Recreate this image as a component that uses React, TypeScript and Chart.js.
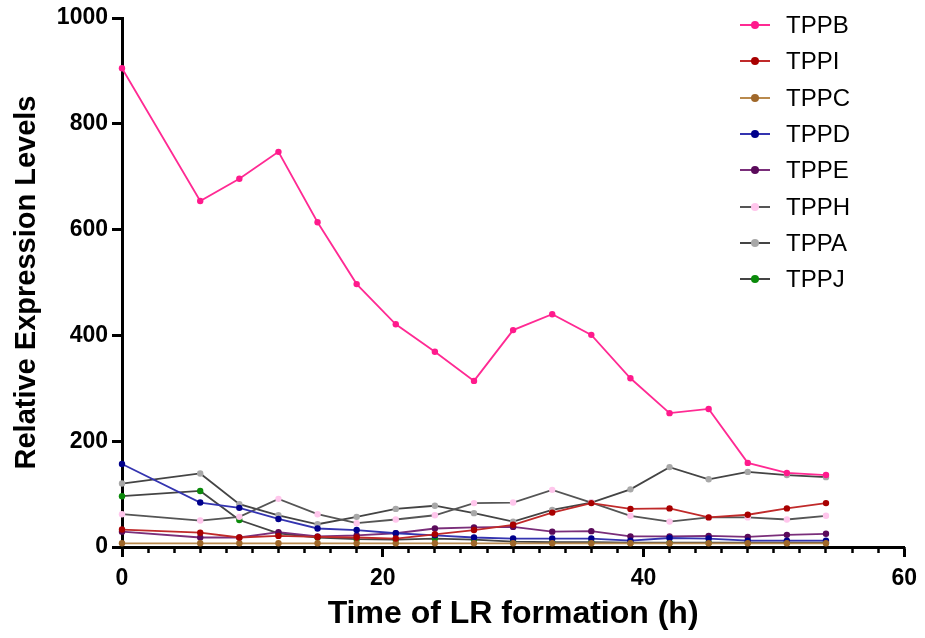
import React, { useEffect, useRef } from 'react';
import { Chart, registerables } from 'chart.js';

Chart.register(...registerables);

// ---- data ----
const times = [0, 6, 9, 12, 15, 18, 21, 24, 27, 30, 33, 36, 39, 42, 45, 48, 51, 54];
const seriesNames = ['TPPB', 'TPPI', 'TPPC', 'TPPD', 'TPPE', 'TPPH', 'TPPA', 'TPPJ'];
const TPPB = [905, 654, 696, 747, 614, 497, 421, 369, 314, 410, 440, 401, 319, 253, 261, 159, 140, 136];
const TPPI = [33, 27, 18, 21, 19, 18, 16, 24, 32, 42, 65, 83, 72, 73, 56, 61, 73, 83];
const TPPC = [7, 7, 7, 7, 7, 7, 7, 7, 7, 7, 7, 7, 7, 7, 7, 7, 7, 7];
const TPPD = [157, 84, 74, 53, 35, 32, 26, 22, 18, 16, 16, 16, 12, 17, 16, 12, 12, 12];
const TPPE = [29, 18, 18, 28, 20, 22, 26, 35, 37, 38, 29, 30, 20, 20, 21, 19, 23, 25];
const TPPH = [62, 50, 57, 91, 62, 45, 52, 60, 83, 84, 108, 84, 59, 48, 56, 56, 52, 59];
const TPPA = [120, 139, 81, 60, 43, 57, 72, 78, 64, 48, 70, 84, 109, 151, 128, 142, 136, 132];
const TPPJ = [96, 106, 51, 26, 18, 15, 14, 16, 14, 10, 9, 9, 8, 8, 8, 8, 8, 8];
const seriesValues = [TPPB, TPPI, TPPC, TPPD, TPPE, TPPH, TPPA, TPPJ];
const yTickValues = [0, 200, 400, 600, 800, 1000];
const xMajorStep = 20;
const xMinorStep = 2;

// ---- styles ----
const lineColors = ['#FF2A93', '#C02A2A', '#B98A4E', '#3434B0', '#7A2E7A', '#555555', '#444444', '#444444'];
const markerColors = ['#FF1A8C', '#A80000', '#A0682A', '#00008B', '#5A0A5A', '#FFC6EC', '#A8A8A8', '#0A8A0A'];
const FONT = "'Liberation Sans', Arial, Helvetica, sans-serif";

export default function App() {
  const canvasRef = useRef<HTMLCanvasElement | null>(null);

  useEffect(() => {
    document.body.style.margin = '0';
    const ctx = canvasRef.current;
    if (!ctx) return;
    Chart.defaults.color = '#000';
    const datasets = seriesNames.map((name, i) => ({
      label: name,
      data: times.map((t, j) => ({ x: t, y: seriesValues[i][j] })),
      borderColor: lineColors[i],
      backgroundColor: markerColors[i],
      pointBackgroundColor: markerColors[i],
      pointBorderColor: markerColors[i],
      pointRadius: 3.2,
      pointBorderWidth: 0,
      borderWidth: 1.8,
      tension: 0,
      clip: false as any,
    }));
    const chart = new Chart(ctx, {
      type: 'line',
      data: { datasets },
      options: {
        animation: false,
        responsive: false,
        maintainAspectRatio: false,
        layout: { padding: { top: 18, right: 20, left: 0, bottom: 0 } },
        plugins: { legend: { display: false }, tooltip: { enabled: false } },
        scales: {
          x: {
            type: 'linear',
            position: 'bottom',
            weight: 1,
            min: 0,
            max: 60,
            ticks: {
              stepSize: xMajorStep,
              color: '#000',
              padding: 8,
              font: { family: FONT, size: 23, weight: 'bold' },
              callback: (v: any) => String(v),
            },
            grid: { drawOnChartArea: false, color: '#000', tickLength: 10, tickWidth: 3 },
            border: { display: true, color: '#000', width: 3 },
            title: {
              display: true,
              text: 'Time of LR formation (h)',
              color: '#000',
              font: { family: FONT, size: 32, weight: 'bold' },
              padding: { top: 0, bottom: 5 },
            },
            afterFit: (s: any) => { s.height = 91; },
          },
          x2: {
            type: 'linear',
            position: 'bottom',
            weight: 0,
            min: 0,
            max: 60,
            ticks: { stepSize: xMinorStep, display: false },
            grid: { drawOnChartArea: false, color: '#000', tickLength: 6, tickWidth: 2.5 },
            border: { display: false },
            afterFit: (s: any) => { s.height = 0; },
          },
          y: {
            type: 'linear',
            min: 0,
            max: 1000,
            afterBuildTicks: (s: any) => { s.ticks = yTickValues.map((v) => ({ value: v })); },
            ticks: {
              color: '#000',
              padding: 4,
              font: { family: FONT, size: 23, weight: 'bold' },
              callback: (v: any) => String(v),
            },
            grid: { drawOnChartArea: false, color: '#000', tickLength: 10, tickWidth: 3 },
            border: { display: true, color: '#000', width: 3 },
            title: {
              display: true,
              text: 'Relative Expression Levels',
              color: '#000',
              font: { family: FONT, size: 29, weight: 'bold' },
              padding: { top: 10, bottom: 0 },
            },
            afterFit: (s: any) => { s.width = 122; },
          },
        },
      },
    });
    return () => chart.destroy();
  }, []);

  return (
    <div style={{ position: 'relative', width: 925, height: 638, background: '#fff' }}>
      <canvas ref={canvasRef} width={925} height={638} style={{ display: 'block' }} />
      <div style={{ position: 'absolute', left: 740, top: 7, fontFamily: FONT, fontSize: 24, color: '#000' }}>
        {seriesNames.map((name, i) => (
          <div key={name} style={{ display: 'flex', alignItems: 'center', height: 36.3 }}>
            <div style={{ position: 'relative', width: 30, height: 2, background: lineColors[i], marginRight: 16 }}>
              <div
                style={{
                  position: 'absolute',
                  left: 11,
                  top: -3,
                  width: 8,
                  height: 8,
                  borderRadius: 4,
                  background: markerColors[i],
                }}
              />
            </div>
            <span>{name}</span>
          </div>
        ))}
      </div>
    </div>
  );
}
